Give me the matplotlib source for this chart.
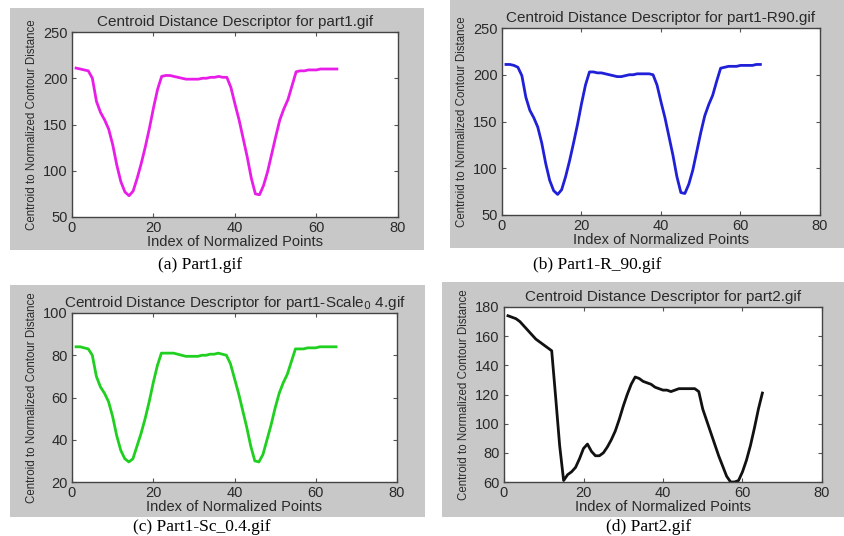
import numpy as np
import matplotlib
matplotlib.use("Agg")
import matplotlib.pyplot as plt
from matplotlib.patches import Rectangle

plt.rcParams['font.family'] = ['Liberation Sans', 'DejaVu Sans']

W, H = 845, 536

idx = list(range(1, 66))

part1 = [211, 210, 209, 208, 200, 175, 163, 155, 145, 128,
         106, 88, 77, 73, 78, 92, 108, 126, 146, 168,
         188, 202, 203, 203, 202, 201, 200, 199, 199, 199,
         199, 200, 200, 201, 201, 202, 201, 201, 190, 172,
         155, 135, 115, 92, 75, 74, 84, 99, 118, 137,
         155, 167, 177, 192, 207, 208, 208, 209, 209, 209,
         210, 210, 210, 210, 210]

part1_r90 = [211, 211, 210, 208, 199, 176, 162, 154, 144, 127,
             105, 87, 76, 72, 77, 91, 108, 127, 147, 169,
             189, 203, 203, 202, 202, 201, 200, 199, 198, 198,
             199, 200, 200, 201, 201, 201, 201, 200, 189, 171,
             154, 134, 114, 91, 74, 73, 83, 98, 118, 138,
             156, 168, 178, 193, 207, 208, 209, 209, 209, 210,
             210, 210, 210, 211, 211]

part1_sc04 = [84, 84, 83.5, 83, 80, 70, 65, 62, 58, 51,
              42, 35, 31, 29.5, 31, 37, 43, 50, 58, 67,
              75, 81, 81, 81, 81, 80.5, 80, 79.5, 79.5, 79.5,
              79.5, 80, 80, 80.5, 80.5, 81, 80.5, 80, 76, 69,
              62, 54, 46, 37, 30, 29.5, 33, 40, 47, 55,
              62, 67, 71, 77, 83, 83, 83, 83.5, 83.5, 83.5,
              84, 84, 84, 84, 84]

part2 = [174, 173, 172, 170, 167, 164, 161, 158, 156, 154,
         152, 150, 118, 85, 61, 65, 67, 70, 76, 83,
         86, 81, 78, 78, 80, 84, 89, 95, 103, 112,
         120, 127, 132, 131, 129, 128, 127, 125, 124, 123,
         123, 122, 123, 124, 124, 124, 124, 124, 122, 110,
         102, 94, 86, 78, 71, 64, 60, 60, 61, 67,
         75, 85, 97, 110, 121]

panels = [
    # gray box (x0, y0, x1, y1), axes box, series, colour, title, ylim, yticks, caption, caption pos
    ((10, 8, 424, 250), (72, 32, 398, 217), part1, '#e81ee8',
     'Centroid Distance Descriptor for part1.gif', (50, 250), [50, 100, 150, 200, 250],
     '(a) Part1.gif', (200, 265)),
    ((450, 0, 845, 248), (502, 28, 820, 215), part1_r90, '#2020d8',
     'Centroid Distance Descriptor for part1-R90.gif', (50, 250), [50, 100, 150, 200, 250],
     '(b) Part1-R_90.gif', (597, 265)),
    ((10, 285, 425, 517), (72, 313, 397, 482), part1_sc04, '#20d020',
     'Centroid Distance Descriptor for part1-Scale$_0$ 4.gif', (20, 100), [20, 40, 60, 80, 100],
     '(c) Part1-Sc_0.4.gif', (202, 527)),
    ((442, 282, 845, 517), (504, 307, 822, 482), part2, '#111111',
     'Centroid Distance Descriptor for part2.gif', (60, 180), [60, 80, 100, 120, 140, 160, 180],
     '(d) Part2.gif', (649, 527)),
]

fig = plt.figure(figsize=(W / 100, H / 100), dpi=100)
fig.patch.set_facecolor('white')


def box(x0, y0, x1, y1):
    return [x0 / W, 1 - y1 / H, (x1 - x0) / W, (y1 - y0) / H]


for gbox, abox, ys, col, title, ylim, yt, cap, cpos in panels:
    l, b, w, h = box(*gbox)
    fig.patches.append(Rectangle((l, b), w, h, transform=fig.transFigure,
                                 facecolor='#c8c8c8', edgecolor='none', zorder=-10))
    ax = fig.add_axes(box(*abox))
    ax.set_zorder(1)
    ax.plot(idx, ys, color=col, lw=2)
    ax.set_xlim(0, 80)
    ax.set_ylim(*ylim)
    ax.set_xticks([0, 20, 40, 60, 80])
    ax.set_yticks(yt)
    ax.tick_params(direction='in', top=True, right=True, length=3,
                   labelsize=10.5, labelcolor='#2a2a2a', color='#555555', pad=3)
    for s in ax.spines.values():
        s.set_color('#444444')
        s.set_linewidth(1.0)
    ax.set_title(title, fontsize=11, color='#2a2a2a', pad=4)
    ax.set_xlabel('Index of Normalized Points', fontsize=10.5, color='#2a2a2a', labelpad=0)
    ax.set_ylabel('Centroid to Normalized Contour Distance', fontsize=8.3,
                  color='#2a2a2a', labelpad=4)
    fig.text(cpos[0] / W, 1 - cpos[1] / H, cap, ha='center', va='center',
             fontsize=12.5, family=['Liberation Serif', 'DejaVu Serif'])

fig.savefig('out.png', dpi=100)
